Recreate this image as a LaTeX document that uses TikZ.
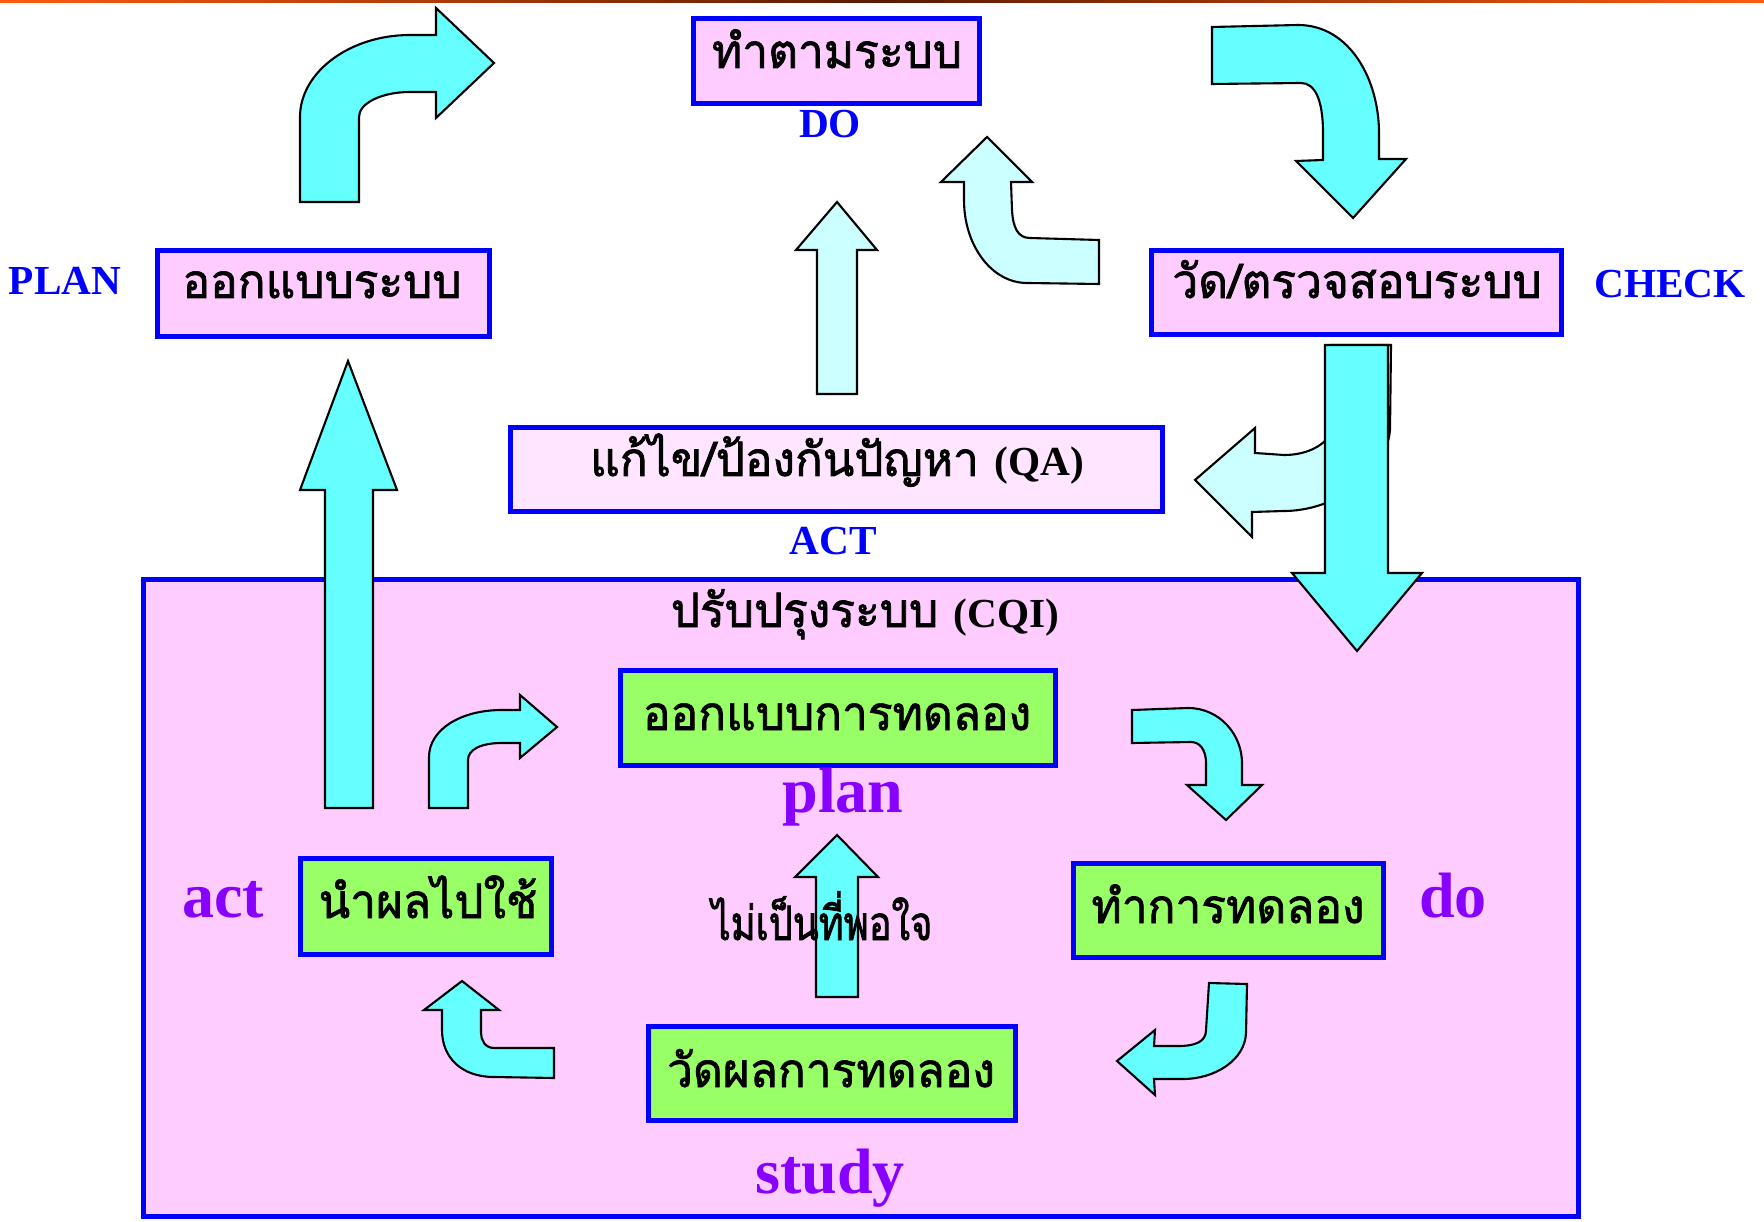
\documentclass[tikz,border=0pt]{standalone}
\usepackage{fontspec}
\usetikzlibrary{fit}
\newfontfamily\thaifont[Script=Thai,FakeBold=1.6,FakeStretch=0.97]{Loma}
\newfontfamily\thaicond[Script=Thai,FakeBold=1.6,FakeStretch=0.8]{Loma}
\newfontfamily\lserif{Liberation Serif}
\definecolor{pinkA}{HTML}{FFCCFF}
\definecolor{pinkB}{HTML}{FFE5FF}
\definecolor{greenA}{HTML}{99FF66}
\definecolor{cyanA}{HTML}{66FFFF}
\definecolor{cyanB}{HTML}{CCFFFF}
\definecolor{purp}{HTML}{8800FF}
\definecolor{orangeA}{HTML}{FF5A10}
\definecolor{brownA}{HTML}{5A1A00}
\begin{document}
\begin{tikzpicture}[x=0.02cm,y=-0.02cm,
  boxp/.style={draw=blue,line width=2.8pt,fill=pinkA,inner sep=0pt},
  boxq/.style={draw=blue,line width=2.8pt,fill=pinkB,inner sep=0pt},
  boxg/.style={draw=blue,line width=2.8pt,fill=greenA,inner sep=0pt},
  thaitxt/.style={font=\thaifont\fontsize{27}{30}\selectfont,anchor=base,inner sep=0pt},
  thaicondtxt/.style={font=\thaicond\fontsize{27}{30}\selectfont,anchor=base,inner sep=0pt},
  bluelab/.style={font=\lserif\bfseries\fontsize{23.5}{26}\selectfont,text=blue,anchor=base,inner sep=0pt},
  purplab/.style={font=\lserif\bfseries\fontsize{36.5}{40}\selectfont,text=purp,anchor=base,inner sep=0pt},
  arrA/.style={fill=cyanA,draw=black,line width=1.2pt,line join=miter},
  arrB/.style={fill=cyanB,draw=black,line width=1.2pt,line join=miter}]
\useasboundingbox (0,0) rectangle (1764,1222);
\fill[white] (0,0) rectangle (1764,1222);
\shade[left color=orangeA,right color=orangeA,middle color=brownA] (0,0) rectangle (1764,3);

% big CQI frame
\node[boxp,fit={(143.5,579.5) (1578.5,1216.5)}] (cqi) {};

% top-level boxes
\node[boxp,fit={(157.5,250.5) (489.5,336.5)}] (planbox) {};
\node[boxp,fit={(693.5,18.5) (979.5,103.5)}] (dobox) {};
\node[boxp,fit={(1151.5,250.5) (1561.5,334.5)}] (checkbox) {};
\node[boxq,fit={(510.5,427.5) (1162.5,511.5)}] (qabox) {};

% inner boxes
\node[boxg,fit={(620.5,670.5) (1055.5,765.5)}] (planG) {};
\node[boxg,fit={(1073.5,863.5) (1383.5,957.5)}] (doG) {};
\node[boxg,fit={(648.5,1026.5) (1015.5,1120.5)}] (studyG) {};
\node[boxg,fit={(300.5,858.5) (551.5,954.5)}] (actG) {};

% arrows top
\draw[arrA] (300,202) -- (300,117) .. controls (300,72) and (350,35) .. (410,35) -- (436,35) -- (436,8) -- (494,63) -- (436,118) -- (436,92) -- (410,92) .. controls (382,92) and (359,103) .. (359,117) -- (359,202) -- cycle;
\draw[arrA] (1212,27) -- (1298,25) .. controls (1350,25) and (1379,80) .. (1379,133) -- (1379,159) -- (1406,159) -- (1353,218) -- (1296,161) -- (1323,160) -- (1323,133) .. controls (1323,100) and (1315,83) .. (1301,83) -- (1212,84) -- cycle;
\draw[arrB] (987,137) -- (1032,182) -- (1011,182) -- (1012,210) .. controls (1013,228) and (1018,238) .. (1030,238) -- (1099,240) -- (1099,284) -- (1027,283) .. controls (992,283) and (964,246) .. (964,200) -- (964,182) -- (941,182) -- cycle;
\draw[arrB] (817,394) -- (817,250) -- (796,250) -- (837,202) -- (877,250) -- (857,250) -- (857,394) -- cycle;
\draw[arrB] (1195,480) -- (1255,428) -- (1255,453) -- (1284,455) .. controls (1305,455) and (1322,447) .. (1330,435) -- (1332,345) -- (1391,345) -- (1390,430) .. controls (1385,480) and (1330,511) .. (1284,511) -- (1252,512) -- (1252,537) -- cycle;
\draw[arrA] (1325,345) -- (1388,345) -- (1388,573) -- (1422,573) -- (1357,651) -- (1292,573) -- (1325,573) -- cycle;
\draw[arrA] (325,808) -- (325,490) -- (300,490) -- (348,361) -- (397,490) -- (373,490) -- (373,808) -- cycle;

% arrows inside CQI
\draw[arrA] (429,808) -- (429,757) .. controls (429,730) and (460,710) .. (502,710) -- (520,710) -- (520,695) -- (557,727) -- (520,758) -- (520,743) -- (502,743) .. controls (480,743) and (468,750) .. (468,760) -- (468,808) -- cycle;
\draw[arrA] (1132,710) -- (1188,708) .. controls (1220,708) and (1242,735) .. (1242,763) -- (1242,785) -- (1262,785) -- (1226,820) -- (1187,785) -- (1206,785) -- (1206,763) .. controls (1206,750) and (1200,742) .. (1191,742) -- (1132,743) -- cycle;
\draw[arrA] (1209,983) -- (1247,984) -- (1246,1033) .. controls (1245,1060) and (1215,1079) .. (1183,1079) -- (1154,1079) -- (1155,1095) -- (1117,1061) -- (1155,1030) -- (1154,1046) -- (1178,1046) .. controls (1195,1046) and (1206,1042) .. (1206,1030) -- cycle;
\draw[arrA] (554,1048) -- (494,1048) .. controls (485,1048) and (481,1040) .. (481,1033) -- (481,1010) -- (499,1010) -- (462,981) -- (424,1010) -- (442,1010) -- (442,1030) .. controls (442,1058) and (462,1077) .. (494,1077) -- (554,1078) -- cycle;
\draw[arrA] (816,997) -- (816,877) -- (795,877) -- (837,835) -- (878,877) -- (858,877) -- (858,997) -- cycle;

% texts
\node[thaitxt] (t1) at (322,298) {ออกแบบระบบ};
\node[thaitxt] (t2) at (837,68) {ทำตามระบบ};
\node[thaitxt] (t3) at (1357,298) {วัด/ตรวจสอบระบบ};
\node[thaitxt] (t4) at (837,476) {แก้ไข/ป้องกันปัญหา {\lserif\bfseries\fontsize{23.5}{26}\selectfont (QA)}};
\node[thaitxt] (t5) at (865,627) {ปรับปรุงระบบ {\lserif\bfseries\fontsize{23.5}{26}\selectfont (CQI)}};
\node[thaitxt] (t6) at (837,730) {ออกแบบการทดลอง};
\node[thaitxt] (t7) at (1228,923) {ทำการทดลอง};
\node[thaitxt] (t8) at (831,1087) {วัดผลการทดลอง};
\node[thaitxt] (t9) at (428,918) {นำผลไปใช้};
\node[thaicondtxt] (t10) at (822,940) {ไม่เป็นที่พอใจ};

\node[bluelab] (lPLAN) at (65,295) {PLAN};
\node[bluelab] (lDO) at (830,138) {DO};
\node[bluelab] (lCHECK) at (1670,298) {CHECK};
\node[bluelab] (lACT) at (833,555) {ACT};

\node[purplab] (lplan) at (843,812) {plan};
\node[purplab] (ldo) at (1453,917) {do};
\node[purplab] (lact) at (223,917) {act};
\node[purplab] (lstudy) at (830,1193) {study};
\end{tikzpicture}
\end{document}
